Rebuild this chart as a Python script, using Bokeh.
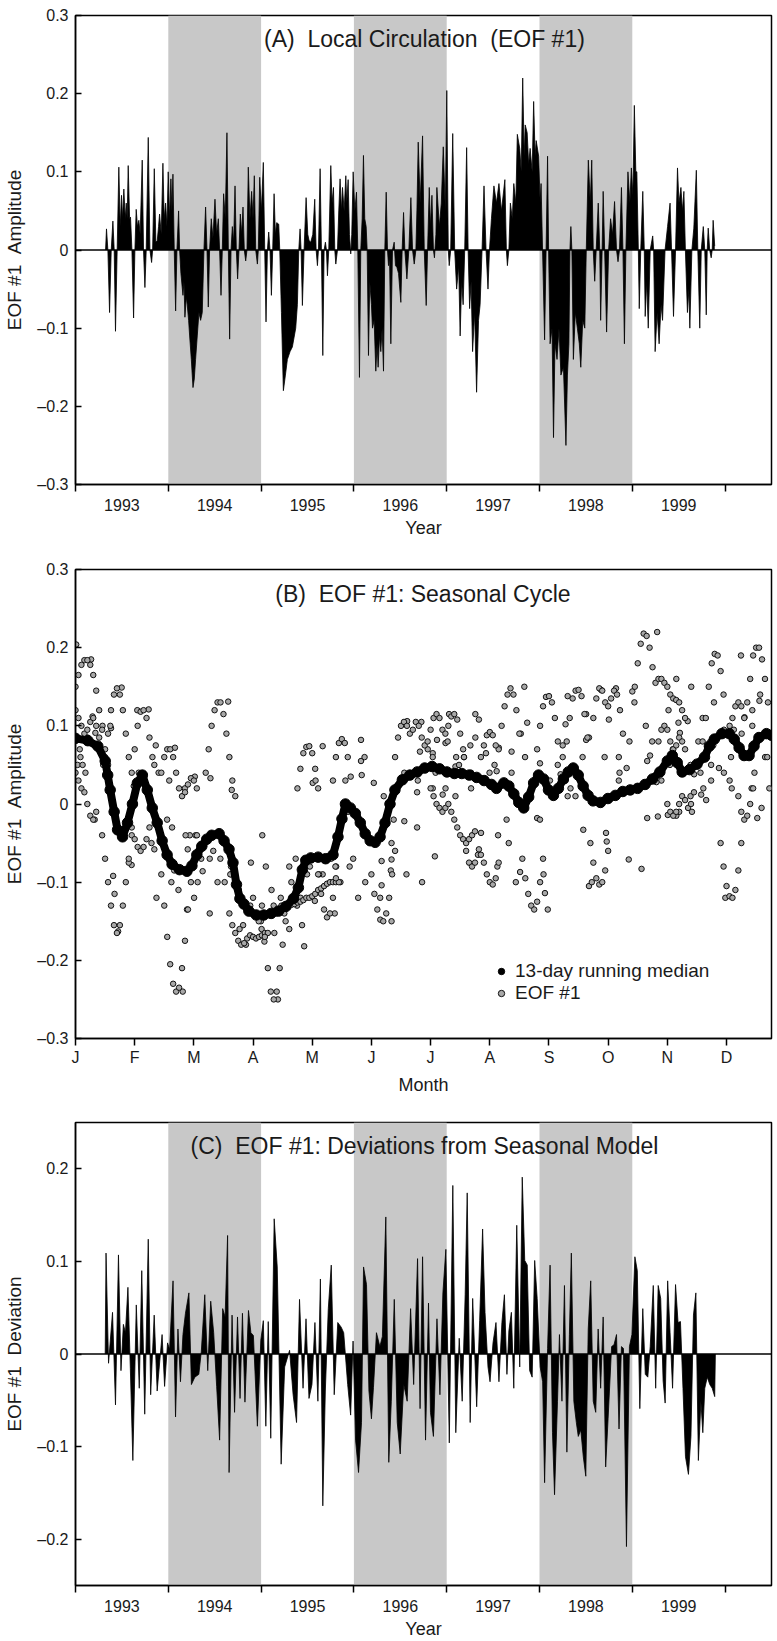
import numpy as np
from bokeh.plotting import figure
from bokeh.layouts import column
from bokeh.models import (BoxAnnotation, Span, FixedTicker, Label, Legend,
                          LegendItem, Range1d)
from bokeh.embed import file_html
from bokeh.resources import INLINE

FONT = "Liberation Sans"
TXT = "#1a1a1a"
SP2 = "\u00a0\u00a0"

# ---------------- data ----------------
shade_years = [1994, 1996, 1998]
year_ticks = [1993, 1994, 1995, 1996, 1997, 1998, 1999, 2000]
year_label_pos = [1993.5, 1994.5, 1995.5, 1996.5, 1997.5, 1998.5, 1999.5]
year_labels = ["1993", "1994", "1995", "1996", "1997", "1998", "1999"]
month_ticks = [0, 1, 2, 3, 4, 5, 6, 7, 8, 9, 10, 11]
month_labels = ["J", "F", "M", "A", "M", "J", "J", "A", "S", "O", "N", "D"]

# Panel A: EOF #1 amplitude (decimal year, value)
a_year = [
    1993.324, 1993.334, 1993.349, 1993.367, 1993.385, 1993.403, 1993.417, 1993.431, 1993.449, 1993.467,
    1993.482, 1993.496, 1993.507, 1993.521, 1993.536, 1993.547, 1993.557, 1993.568, 1993.583, 1993.593,
    1993.608, 1993.626, 1993.640, 1993.654, 1993.668, 1993.683, 1993.697, 1993.719, 1993.733, 1993.748,
    1993.762, 1993.784, 1993.802, 1993.820, 1993.831, 1993.849, 1993.866, 1993.881, 1993.895, 1993.906,
    1993.924, 1993.942, 1993.956, 1993.971, 1993.985, 1993.999, 1994.014, 1994.028, 1994.039, 1994.050,
    1994.064, 1994.079, 1994.093, 1994.111, 1994.122, 1994.136, 1994.158, 1994.169, 1994.179, 1994.194,
    1994.204, 1994.219, 1994.230, 1994.248, 1994.266, 1994.280, 1994.294, 1994.312, 1994.330, 1994.348,
    1994.366, 1994.384, 1994.402, 1994.417, 1994.431, 1994.445, 1994.463, 1994.481, 1994.503, 1994.521,
    1994.539, 1994.553, 1994.568, 1994.582, 1994.596, 1994.614, 1994.632, 1994.647, 1994.661, 1994.676,
    1994.690, 1994.704, 1994.719, 1994.733, 1994.747, 1994.762, 1994.776, 1994.791, 1994.805, 1994.819,
    1994.834, 1994.848, 1994.862, 1994.880, 1994.898, 1994.913, 1994.927, 1994.942, 1994.960, 1994.970,
    1994.985, 1995.003, 1995.024, 1995.039, 1995.053, 1995.068, 1995.082, 1995.096, 1995.111, 1995.125,
    1995.140, 1995.154, 1995.168, 1995.190, 1995.201, 1995.219, 1995.240, 1995.262, 1995.283, 1995.312,
    1995.337, 1995.373, 1995.391, 1995.406, 1995.420, 1995.431, 1995.445, 1995.463, 1995.485, 1995.503,
    1995.517, 1995.535, 1995.557, 1995.578, 1995.593, 1995.607, 1995.618, 1995.636, 1995.650, 1995.665,
    1995.679, 1995.693, 1995.704, 1995.715, 1995.729, 1995.751, 1995.765, 1995.780, 1995.794, 1995.805,
    1995.823, 1995.837, 1995.851, 1995.866, 1995.877, 1995.895, 1995.913, 1995.923, 1995.938, 1995.952,
    1995.966, 1995.977, 1995.992, 1996.010, 1996.028, 1996.042, 1996.060, 1996.074, 1996.089, 1996.103,
    1996.117, 1996.132, 1996.143, 1996.157, 1996.171, 1996.189, 1996.200, 1996.218, 1996.236, 1996.250,
    1996.261, 1996.276, 1996.290, 1996.304, 1996.319, 1996.333, 1996.348, 1996.362, 1996.373, 1996.384,
    1996.398, 1996.416, 1996.434, 1996.448, 1996.463, 1996.481, 1996.506, 1996.520, 1996.535, 1996.549,
    1996.571, 1996.592, 1996.614, 1996.632, 1996.650, 1996.668, 1996.679, 1996.693, 1996.714, 1996.740,
    1996.758, 1996.779, 1996.794, 1996.812, 1996.825, 1996.841, 1996.857, 1996.868, 1996.884, 1996.894,
    1996.921, 1996.942, 1996.963, 1996.985, 1997.001, 1997.017, 1997.027, 1997.043, 1997.065, 1997.086,
    1997.107, 1997.129, 1997.145, 1997.161, 1997.177, 1997.194, 1997.215, 1997.231, 1997.247, 1997.263,
    1997.279, 1997.301, 1997.322, 1997.343, 1997.360, 1997.381, 1997.402, 1997.424, 1997.445, 1997.461,
    1997.482, 1997.509, 1997.536, 1997.563, 1997.590, 1997.627, 1997.643, 1997.654, 1997.670, 1997.686,
    1997.707, 1997.723, 1997.745, 1997.761, 1997.787, 1997.803, 1997.819, 1997.835, 1997.846, 1997.867,
    1997.883, 1997.899, 1997.921, 1997.937, 1997.953, 1997.964, 1997.991, 1998.007, 1998.017, 1998.033,
    1998.055, 1998.071, 1998.087, 1998.098, 1998.114, 1998.135, 1998.151, 1998.167, 1998.189, 1998.210,
    1998.231, 1998.258, 1998.285, 1998.301, 1998.317, 1998.328, 1998.338, 1998.349, 1998.365, 1998.386,
    1998.408, 1998.429, 1998.445, 1998.466, 1998.488, 1998.504, 1998.526, 1998.547, 1998.563, 1998.579,
    1998.595, 1998.611, 1998.633, 1998.649, 1998.659, 1998.675, 1998.686, 1998.702, 1998.723, 1998.745,
    1998.766, 1998.787, 1998.809, 1998.830, 1998.846, 1998.862, 1998.883, 1998.899, 1998.915, 1998.931,
    1998.953, 1998.974, 1998.990, 1999.006, 1999.022, 1999.038, 1999.049, 1999.065, 1999.075, 1999.091,
    1999.113, 1999.129, 1999.139, 1999.155, 1999.172, 1999.193, 1999.220, 1999.230, 1999.246, 1999.268,
    1999.289, 1999.310, 1999.326, 1999.353, 1999.380, 1999.407, 1999.423, 1999.444, 1999.466, 1999.487,
    1999.503, 1999.524, 1999.540, 1999.556, 1999.572, 1999.594, 1999.610, 1999.620, 1999.642, 1999.663,
    1999.690, 1999.706, 1999.727, 1999.743, 1999.765, 1999.781, 1999.797, 1999.807, 1999.818, 1999.834,
    1999.850, 1999.861, 1999.871, 1999.888,
]
a_val = [
    0, 0.027, 0, -0.080, 0, 0.037, 0, -0.104, 0, 0.106,
    0.03, 0.07, 0.04, 0.078, 0.04, 0.06, 0.04, 0.108, 0.04, 0.042,
    0, -0.087, 0, 0.052, 0.03, 0.038, 0.02, 0.115, 0, -0.048,
    0, 0.144, 0, -0.016, 0, 0.104, 0.01, 0.012, 0.03, 0.046,
    0.02, 0.111, 0.04, 0.06, 0.03, 0.10, 0.04, 0.091, 0.05, 0.097,
    0, -0.078, 0, 0.05, 0, -0.03, -0.058, -0.04, -0.086, -0.06,
    -0.07, -0.09, -0.11, -0.14, -0.176, -0.165, -0.14, -0.11, -0.08, -0.09,
    -0.08, 0, 0.055, 0, -0.073, 0, 0.04, 0.015, 0.065, 0.02,
    0.04, 0, -0.058, 0, 0.072, 0.04, 0.150, 0, -0.114, 0,
    0.03, 0.01, 0.082, 0, -0.037, 0, 0.046, 0.02, 0.055, 0,
    -0.014, 0, 0.106, 0.04, 0.075, 0.04, 0.095, 0, -0.018, 0,
    0.093, 0.05, 0.112, 0, -0.092, 0, 0.023, 0, -0.058, 0,
    0.072, 0.02, 0.035, 0.033, 0, -0.08, -0.18, -0.16, -0.14, -0.13,
    -0.124, -0.10, -0.07, 0, 0.027, 0, -0.071, 0, 0.067, 0.02,
    0.012, 0.01, 0.02, 0.065, 0, -0.02, 0, 0.104, 0, -0.135,
    0, 0.01, 0, -0.033, 0, 0.108, 0.06, 0.08, 0, -0.018,
    0, 0.05, 0.091, 0.05, 0.08, 0.05, 0.095, 0.06, 0.09, 0.02,
    -0.005, 0.02, 0.10, 0.05, 0.074, 0, -0.163, 0, 0.04, 0.121,
    0.04, 0.03, 0, -0.135, -0.04, -0.07, -0.10, -0.09, -0.155, -0.12,
    -0.15, -0.11, -0.13, -0.10, -0.155, 0, 0.074, 0, -0.02, -0.01,
    -0.12, 0, 0.01, -0.02, -0.022, -0.03, -0.067, 0, 0.048, 0,
    -0.037, 0, 0.067, 0, -0.018, 0, 0.05, 0.138, 0.06, 0.146,
    0, -0.071, 0, 0.08, 0.03, 0.07, 0, -0.01, 0.02, 0.08,
    0.03, 0.06, 0.132, 0.05, 0.204, 0, -0.02, 0, 0.149, 0,
    -0.05, -0.02, -0.11, -0.04, -0.07, 0, 0.131, 0, -0.075, -0.04,
    -0.13, -0.08, -0.182, -0.09, -0.07, 0, 0.082, 0, -0.05, 0,
    0.04, 0.082, 0.06, 0.085, 0.05, 0.09, 0, -0.02, 0, 0.06,
    0.04, 0.085, 0.06, 0.148, 0.13, 0.10, 0.22, 0.12, 0.16, 0.15,
    0.11, 0.13, 0.10, 0.19, 0.12, 0.14, 0.12, 0.06, 0.085, 0,
    -0.115, 0, 0.12, 0, -0.12, -0.10, -0.24, -0.12, -0.14, -0.10,
    -0.16, -0.15, -0.25, -0.16, -0.12, 0, 0.03, 0, -0.14, -0.08,
    -0.10, -0.12, -0.15, -0.09, -0.10, 0, 0.115, 0.06, 0.115, 0,
    -0.04, 0, 0.06, 0, -0.09, 0, 0.075, 0, -0.105, 0,
    0.04, 0.02, 0.062, 0, -0.015, 0, 0.08, 0, -0.12, 0,
    0.10, 0.06, 0.105, 0.07, 0.185, 0.10, 0.10, 0, -0.075, 0,
    0.075, 0, -0.085, -0.04, -0.10, 0, 0.018, 0, -0.13, -0.08,
    -0.12, -0.07, -0.09, 0, 0.03, 0.06, 0, -0.085, 0, 0.105,
    0.06, 0.08, 0.05, 0.075, 0, -0.08, -0.05, -0.10, 0, 0.028,
    0.102, 0, -0.10, 0, 0.03, 0, -0.083, 0, 0.028, 0,
    -0.01, 0, 0.038, 0.005,
]

# Panel B: 13-day running median (month from 1 Jan, value)
med_month = [
    0.000, 0.209, 0.377, 0.502, 0.544, 0.586, 0.653, 0.711, 0.795, 0.879,
    0.962, 1.046, 1.130, 1.213, 1.297, 1.381, 1.464, 1.548, 1.632, 1.757,
    1.883, 1.967, 2.050, 2.134, 2.218, 2.301, 2.427, 2.510, 2.594, 2.661,
    2.720, 2.778, 2.845, 2.929, 3.054, 3.180, 3.305, 3.431, 3.556, 3.682,
    3.766, 3.833, 3.891, 3.975, 4.100, 4.226, 4.351, 4.435, 4.502, 4.561,
    4.644, 4.728, 4.812, 4.895, 4.979, 5.063, 5.146, 5.230, 5.314, 5.397,
    5.523, 5.649, 5.774, 5.900, 6.025, 6.151, 6.276, 6.402, 6.527, 6.653,
    6.778, 6.904, 7.029, 7.113, 7.238, 7.322, 7.406, 7.490, 7.573, 7.657,
    7.741, 7.824, 7.908, 7.992, 8.075, 8.159, 8.243, 8.326, 8.410, 8.494,
    8.577, 8.661, 8.745, 8.870, 8.996, 9.121, 9.247, 9.372, 9.498, 9.623,
    9.749, 9.874, 10.000, 10.084, 10.167, 10.251, 10.377, 10.502, 10.628, 10.711,
    10.795, 10.921, 11.046, 11.130, 11.213, 11.297, 11.381, 11.464, 11.548, 11.674,
    11.760,
]
med_val = [
    0.084, 0.081, 0.074, 0.055, 0.037, 0.018, -0.010, -0.033, -0.042, -0.024,
    0.000, 0.027, 0.037, 0.018, -0.005, -0.024, -0.047, -0.065, -0.077, -0.084,
    -0.086, -0.079, -0.065, -0.054, -0.045, -0.040, -0.038, -0.047, -0.058, -0.075,
    -0.103, -0.121, -0.128, -0.137, -0.142, -0.142, -0.140, -0.137, -0.131, -0.121,
    -0.107, -0.084, -0.072, -0.069, -0.068, -0.070, -0.065, -0.042, -0.019, 0.000,
    -0.005, -0.012, -0.024, -0.038, -0.047, -0.049, -0.042, -0.024, 0.000, 0.018,
    0.031, 0.037, 0.041, 0.046, 0.048, 0.045, 0.041, 0.039, 0.039, 0.037,
    0.034, 0.030, 0.025, 0.020, 0.027, 0.023, 0.013, 0.002, -0.005, 0.009,
    0.027, 0.037, 0.032, 0.018, 0.011, 0.020, 0.032, 0.041, 0.046, 0.037,
    0.023, 0.011, 0.004, 0.002, 0.007, 0.011, 0.016, 0.018, 0.020, 0.025,
    0.032, 0.041, 0.055, 0.062, 0.053, 0.041, 0.044, 0.051, 0.060, 0.074,
    0.083, 0.090, 0.090, 0.083, 0.072, 0.062, 0.062, 0.074, 0.085, 0.090,
    0.088,
]

# Panel B: extra daily EOF #1 points read along the visible dotted tracks
# (start month, values every 0.05 month)
b_track_step = 0.05
b_tracks = [
    (0.00, [0.15, 0.165, 0.178, 0.184, 0.184, 0.178, 0.165, 0.145, 0.12, 0.095, 0.07, 0.05]),
    (0.00, [0.12, 0.11, 0.10, 0.09, 0.095, 0.105, 0.11, 0.10, 0.085]),
    (0.00, [0.04, 0.03, 0.02, 0.015, 0.0, -0.015, -0.02, -0.01]),
    (0.45, [-0.04, -0.07, -0.10, -0.13, -0.155, -0.165, -0.155, -0.13, -0.10, -0.07, -0.04]),
    (0.50, [0.06, 0.09, 0.12, 0.14, 0.148, 0.14, 0.12, 0.09, 0.06]),
    (0.95, [0.04, 0.07, 0.10, 0.118, 0.12, 0.11, 0.085, 0.06]),
    (0.95, [-0.03, -0.045, -0.055, -0.06, -0.055, -0.045, -0.03]),
    (1.45, [-0.09, -0.13, -0.17, -0.205, -0.23, -0.24, -0.235, -0.21, -0.175, -0.135, -0.10]),
    (1.45, [0.04, 0.06, 0.07, 0.07, 0.06, 0.04, 0.02, 0.01, 0.015, 0.025, 0.033, 0.03, 0.02]),
    (2.20, [0.04, 0.07, 0.10, 0.12, 0.13, 0.13, 0.115, 0.09, 0.06, 0.03, 0.01]),
    (2.60, [-0.14, -0.155, -0.165, -0.175, -0.18, -0.178, -0.172, -0.168, -0.17, -0.172,
            -0.17, -0.168, -0.165, -0.165]),
    (3.15, [-0.13, -0.17, -0.21, -0.24, -0.25, -0.24, -0.21, -0.18, -0.15]),
    (3.50, [-0.135, -0.132, -0.13, -0.129, -0.128, -0.126, -0.125, -0.123, -0.12, -0.12,
            -0.118, -0.115, -0.11, -0.108, -0.105, -0.102, -0.10, -0.10, -0.10, -0.10]),
    (3.75, [0.02, 0.045, 0.065, 0.073, 0.074, 0.065, 0.045, 0.02]),
    (4.35, [0.03, 0.06, 0.078, 0.083, 0.078, 0.06, 0.035]),
    (4.10, [-0.09, -0.115, -0.135, -0.145, -0.14, -0.12, -0.095]),
    (5.00, [-0.09, -0.115, -0.135, -0.148, -0.15, -0.14, -0.12, -0.09, -0.06]),
    (5.40, [0.06, 0.085, 0.10, 0.105, 0.10, 0.09, 0.095, 0.105, 0.10, 0.085, 0.075, 0.08,
            0.095, 0.11, 0.115, 0.11, 0.095, 0.09, 0.10, 0.112, 0.115, 0.108, 0.09, 0.07]),
    (6.00, [0.02, 0.01, 0.0, -0.005, -0.01, -0.005, 0.0, -0.01, -0.02, -0.03, -0.04,
            -0.045, -0.05, -0.045, -0.04, -0.035]),
    (6.60, [-0.06, -0.075, -0.08, -0.075, -0.065, -0.065, -0.075, -0.09, -0.10, -0.103,
            -0.095, -0.075]),
    (7.15, [0.07, 0.10, 0.125, 0.14, 0.148, 0.14, 0.12, 0.09]),
    (6.85, [0.06, 0.075, 0.088, 0.092, 0.088, 0.075]),
    (7.55, [-0.07, -0.095, -0.115, -0.13, -0.135, -0.125, -0.10, -0.07]),
    (7.80, [0.07, 0.10, 0.125, 0.137, 0.138, 0.13, 0.11, 0.08]),
    (8.30, [0.08, 0.11, 0.135, 0.145, 0.146, 0.138, 0.115, 0.085]),
    (8.70, [-0.05, -0.075, -0.095, -0.103, -0.10, -0.085, -0.06]),
    (8.75, [0.11, 0.135, 0.148, 0.145, 0.13, 0.125, 0.135, 0.145, 0.14, 0.12, 0.09]),
    (9.45, [0.15, 0.18, 0.205, 0.218, 0.215, 0.20, 0.175, 0.155, 0.16, 0.16, 0.155, 0.15,
            0.14, 0.135, 0.133, 0.13, 0.12, 0.11]),
    (10.00, [0.0, -0.01, -0.015, -0.01, 0.0, 0.01, 0.005, -0.005, 0.0, 0.015]),
    (9.85, [0.08, 0.095, 0.10, 0.095, 0.08, 0.07, 0.075, 0.085, 0.08, 0.07]),
    (10.65, [0.11, 0.15, 0.18, 0.192, 0.19, 0.17, 0.14]),
    (10.90, [-0.05, -0.08, -0.105, -0.118, -0.12, -0.11, -0.085, -0.05]),
    (11.20, [0.01, -0.01, -0.02, -0.015, 0.0, 0.02]),
    (11.35, [0.13, 0.16, 0.19, 0.20, 0.20, 0.185, 0.16, 0.13]),
    (11.05, [0.09, 0.11, 0.125, 0.13, 0.125, 0.11]),
]

# Panel C: deviations from the seasonal model (decimal year, value)
c_year = [
    1993.320, 1993.329, 1993.356, 1993.399, 1993.431, 1993.463, 1993.490, 1993.516, 1993.538, 1993.565,
    1993.591, 1993.618, 1993.655, 1993.687, 1993.714, 1993.746, 1993.784, 1993.810, 1993.848, 1993.880,
    1993.933, 1993.960, 1993.992, 1994.014, 1994.051, 1994.078, 1994.104, 1994.131, 1994.158, 1994.185,
    1994.222, 1994.249, 1994.286, 1994.329, 1994.356, 1994.393, 1994.425, 1994.457, 1994.489, 1994.521,
    1994.553, 1994.586, 1994.612, 1994.639, 1994.655, 1994.687, 1994.714, 1994.746, 1994.773, 1994.799,
    1994.826, 1994.864, 1994.890, 1994.917, 1994.960, 1994.997, 1995.024, 1995.051, 1995.077, 1995.104,
    1995.141, 1995.174, 1995.216, 1995.254, 1995.307, 1995.345, 1995.382, 1995.414, 1995.452, 1995.484,
    1995.516, 1995.548, 1995.580, 1995.612, 1995.639, 1995.665, 1995.692, 1995.724, 1995.756, 1995.788,
    1995.826, 1995.863, 1995.890, 1995.933, 1995.965, 1995.991, 1996.018, 1996.050, 1996.082, 1996.104,
    1996.136, 1996.162, 1996.189, 1996.211, 1996.243, 1996.280, 1996.307, 1996.344, 1996.376, 1996.403,
    1996.435, 1996.467, 1996.499, 1996.537, 1996.574, 1996.611, 1996.644, 1996.686, 1996.713, 1996.740,
    1996.772, 1996.804, 1996.825, 1996.857, 1996.895, 1996.927, 1996.959, 1996.991, 1997.028, 1997.066,
    1997.098, 1997.135, 1997.167, 1997.199, 1997.221, 1997.253, 1997.280, 1997.323, 1997.355, 1997.387,
    1997.413, 1997.445, 1997.467, 1997.499, 1997.531, 1997.563, 1997.595, 1997.622, 1997.649, 1997.670,
    1997.697, 1997.723, 1997.755, 1997.787, 1997.814, 1997.841, 1997.868, 1997.894, 1997.921, 1997.948,
    1997.975, 1998.007, 1998.034, 1998.055, 1998.087, 1998.114, 1998.140, 1998.162, 1998.194, 1998.215,
    1998.242, 1998.269, 1998.295, 1998.322, 1998.343, 1998.370, 1998.397, 1998.418, 1998.445, 1998.472,
    1998.499, 1998.525, 1998.552, 1998.579, 1998.606, 1998.632, 1998.659, 1998.686, 1998.713, 1998.739,
    1998.777, 1998.803, 1998.830, 1998.857, 1998.883, 1998.905, 1998.937, 1998.969, 1998.996, 1999.028,
    1999.054, 1999.081, 1999.113, 1999.140, 1999.167, 1999.193, 1999.226, 1999.252, 1999.279, 1999.306,
    1999.332, 1999.354, 1999.381, 1999.407, 1999.434, 1999.466, 1999.493, 1999.519, 1999.546, 1999.573,
    1999.605, 1999.632, 1999.659, 1999.685, 1999.712, 1999.739, 1999.760, 1999.781, 1999.808, 1999.835,
    1999.861, 1999.888, 1999.895,
]
c_val = [
    0, 0.109, -0.010, 0.045, -0.055, 0.107, -0.018, 0.032, 0.023, 0.072,
    -0.016, -0.115, 0.053, -0.037, 0.090, -0.065, 0.124, -0.044, 0.042, -0.040,
    0.021, -0.035, 0.012, 0.005, 0.079, -0.068, 0.027, -0.030, 0.021, 0.044,
    0.066, -0.033, -0.025, -0.022, 0.003, 0.064, -0.018, 0.057, 0.023, -0.035,
    -0.093, 0.049, 0.040, 0.128, -0.128, 0.042, -0.063, 0.040, -0.048, 0.044,
    -0.052, 0.047, 0.023, 0.020, -0.078, 0.015, 0.036, -0.078, 0.035, -0.091,
    0.146, 0.094, -0.119, -0.014, 0.004, -0.044, -0.074, 0.059, -0.037, 0.038,
    -0.048, -0.033, 0.034, -0.051, 0.081, -0.164, -0.040, 0.049, 0.096, -0.044,
    0.034, 0.029, 0.023, -0.033, -0.066, 0.014, -0.093, -0.128, -0.074, 0.094,
    0.075, -0.040, -0.070, -0.036, 0.023, 0.008, 0.019, 0.148, -0.117, -0.051,
    0.059, -0.074, -0.108, -0.033, -0.051, 0.049, -0.033, 0.103, -0.059, 0.105,
    -0.093, 0.055, -0.063, -0.089, 0.038, -0.044, 0.066, 0.113, -0.096, 0.182,
    -0.085, 0.017, -0.051, 0.064, 0.174, -0.074, 0.060, -0.057, 0.036, 0.135,
    0.045, -0.014, -0.030, 0.012, 0.034, -0.030, 0.034, 0.064, -0.022, 0.025,
    0.045, -0.037, 0.139, -0.014, 0.191, 0.101, 0.096, -0.018, -0.025, 0.101,
    0.060, -0.014, -0.030, -0.139, 0.006, 0.096, -0.085, -0.152, -0.051, 0.021,
    -0.051, 0.074, -0.106, 0.021, 0.109, -0.051, -0.074, -0.089, -0.082, -0.111,
    -0.132, 0.027, 0.079, -0.051, -0.063, 0.027, -0.037, 0.040, -0.122, -0.070,
    0.008, 0.010, 0.021, -0.081, 0.008, 0.006, -0.208, 0.008, 0.021, 0.105,
    0.090, -0.059, 0.049, -0.022, -0.025, 0.008, 0.074, -0.037, 0.074, 0.060,
    -0.029, -0.053, 0.079, 0.023, -0.037, 0.075, 0.034, 0.035, -0.037, -0.111,
    -0.130, -0.089, 0.042, 0.066, -0.115, -0.051, -0.085, -0.037, -0.025, -0.033,
    -0.037, -0.046, 0,
]

y_ticks_ab = [-0.3, -0.2, -0.1, 0.0, 0.1, 0.2, 0.3]
y_labels_ab = ["\u20130.3", "\u20130.2", "\u20130.1", "0", "0.1", "0.2", "0.3"]
y_ticks_c = [-0.2, -0.1, 0.0, 0.1, 0.2]
y_labels_c = ["\u20130.2", "\u20130.1", "0", "0.1", "0.2"]


def base_fig(height, top, bottom, xr, yr):
    p = figure(width=777, height=height, x_range=xr, y_range=yr,
               output_backend="svg", toolbar_location=None, title=None,
               min_border_left=75, min_border_right=6,
               min_border_top=top, min_border_bottom=bottom)
    p.xgrid.visible = False
    p.ygrid.visible = False
    p.outline_line_color = "black"
    p.outline_line_width = 1.5
    p.background_fill_color = "white"
    p.border_fill_color = "white"
    return p


def style_y(p, ticks, labels, title):
    ax = p.yaxis[0]
    ax.ticker = FixedTicker(ticks=ticks, minor_ticks=[])
    ax.major_label_overrides = {t: l for t, l in zip(ticks, labels)}
    ax.major_tick_in = 6
    ax.major_tick_out = 0
    ax.minor_tick_line_color = None
    ax.major_tick_line_width = 1.5
    ax.axis_line_width = 1.5
    ax.major_label_standoff = 7
    ax.major_label_text_font = FONT
    ax.major_label_text_font_size = "16px"
    ax.major_label_text_color = TXT
    ax.axis_label = title
    ax.axis_label_text_font = FONT
    ax.axis_label_text_font_size = "19px"
    ax.axis_label_text_font_style = "normal"
    ax.axis_label_text_color = TXT
    ax.axis_label_standoff = 9


def style_x_years(p):
    ax = p.xaxis[0]
    ax.ticker = FixedTicker(ticks=year_label_pos, minor_ticks=year_ticks)
    ax.major_label_overrides = {t: l for t, l in zip(year_label_pos, year_labels)}
    ax.major_tick_line_color = None
    ax.major_tick_in = 0
    ax.major_tick_out = 0
    ax.minor_tick_in = 0
    ax.minor_tick_out = 7
    ax.minor_tick_line_color = "black"
    ax.minor_tick_line_width = 1.5
    ax.axis_line_width = 1.5
    ax.major_label_standoff = 7
    ax.major_label_text_font = FONT
    ax.major_label_text_font_size = "16px"
    ax.major_label_text_color = TXT
    ax.axis_label = "Year"
    ax.axis_label_text_font = FONT
    ax.axis_label_text_font_size = "18px"
    ax.axis_label_text_font_style = "normal"
    ax.axis_label_text_color = TXT
    ax.axis_label_standoff = 4


def add_shading(p):
    for y in shade_years:
        p.add_layout(BoxAnnotation(left=y, right=y + 1, fill_color="#c8c8c8",
                                   fill_alpha=1.0, line_color=None, level="underlay"))


def add_title(p, x, y, text):
    p.add_layout(Label(x=x, y=y, text=text, text_align="center",
                       text_baseline="middle", text_font=FONT,
                       text_font_size="23px", text_color=TXT))


# ---------------- Panel A ----------------
pA = base_fig(540, 15, 56, Range1d(1993, 2000.5), Range1d(-0.3, 0.3))
add_shading(pA)
pA.varea(x=a_year, y1=0, y2=a_val, fill_color="black")
pA.line(x=a_year, y=a_val, line_color="black", line_width=0.8)
pA.add_layout(Span(location=0, dimension="width", line_color="black", line_width=1.5))
style_y(pA, y_ticks_ab, y_labels_ab, "EOF #1" + SP2 + "Amplitude")
style_x_years(pA)
add_title(pA, 1996.76, 0.27, "(A)" + SP2 + "Local Circulation" + SP2 + "(EOF #1)")

# ---------------- Panel B ----------------
a_year_arr = np.array(a_year)
a_val_arr = np.array(a_val)
keep = a_val_arr != 0
fold_month = (a_year_arr[keep] - np.floor(a_year_arr[keep])) * 12.0
fold_val = a_val_arr[keep]

trk_m, trk_v = [], []
for start, vals in b_tracks:
    for i, v in enumerate(vals):
        trk_m.append(start + i * b_track_step)
        trk_v.append(v)

b_month = np.concatenate([fold_month, np.array(trk_m)])
b_val = np.concatenate([fold_val, np.array(trk_v)])

pB = base_fig(560, 29, 62, Range1d(0, 11.76), Range1d(-0.3, 0.3))
r_pts = pB.scatter(x=b_month, y=b_val, marker="circle", size=5.5,
                   fill_color="#a8a8a8", line_color="#111111", line_width=1.0)
pB.line(x=med_month, y=med_val, line_color="black", line_width=8)
r_med = pB.scatter(x=med_month, y=med_val, marker="circle", size=10.5,
                   fill_color="black", line_color="black")
style_y(pB, y_ticks_ab, y_labels_ab, "EOF #1" + SP2 + "Amplitude")
axb = pB.xaxis[0]
axb.ticker = FixedTicker(ticks=[float(m) for m in month_ticks], minor_ticks=[])
axb.major_label_overrides = {float(m): l for m, l in zip(month_ticks, month_labels)}
axb.major_tick_in = 0
axb.major_tick_out = 7
axb.major_tick_line_width = 1.5
axb.axis_line_width = 1.5
axb.major_label_standoff = 3
axb.major_label_text_font = FONT
axb.major_label_text_font_size = "16px"
axb.major_label_text_color = TXT
axb.axis_label = "Month"
axb.axis_label_text_font = FONT
axb.axis_label_text_font_size = "18px"
axb.axis_label_text_font_style = "normal"
axb.axis_label_text_color = TXT
axb.axis_label_standoff = 6
add_title(pB, 5.87, 0.269, "(B)" + SP2 + "EOF #1: Seasonal Cycle")
legend = Legend(items=[LegendItem(label="13-day running median", renderers=[r_med]),
                       LegendItem(label="EOF #1", renderers=[r_pts])],
                location=(418, 34), background_fill_alpha=0, border_line_color=None,
                label_text_font=FONT, label_text_font_size="19px",
                label_text_color=TXT, glyph_width=16, glyph_height=20,
                label_height=20, spacing=0, padding=0, margin=0, label_standoff=6)
pB.add_layout(legend)

# ---------------- Panel C ----------------
pC = base_fig(541, 22, 49, Range1d(1993, 2000.5), Range1d(-0.25, 0.25))
add_shading(pC)
pC.varea(x=c_year, y1=0, y2=c_val, fill_color="black")
pC.line(x=c_year, y=c_val, line_color="black", line_width=0.8)
pC.add_layout(Span(location=0, dimension="width", line_color="black", line_width=1.5))
style_y(pC, y_ticks_c, y_labels_c, "EOF #1" + SP2 + "Deviation")
style_x_years(pC)
add_title(pC, 1996.76, 0.225, "(C)" + SP2 + "EOF #1: Deviations from Seasonal Model")

layout = column(pA, pB, pC, spacing=0)
open("out.html", "w").write(file_html(layout, INLINE))
